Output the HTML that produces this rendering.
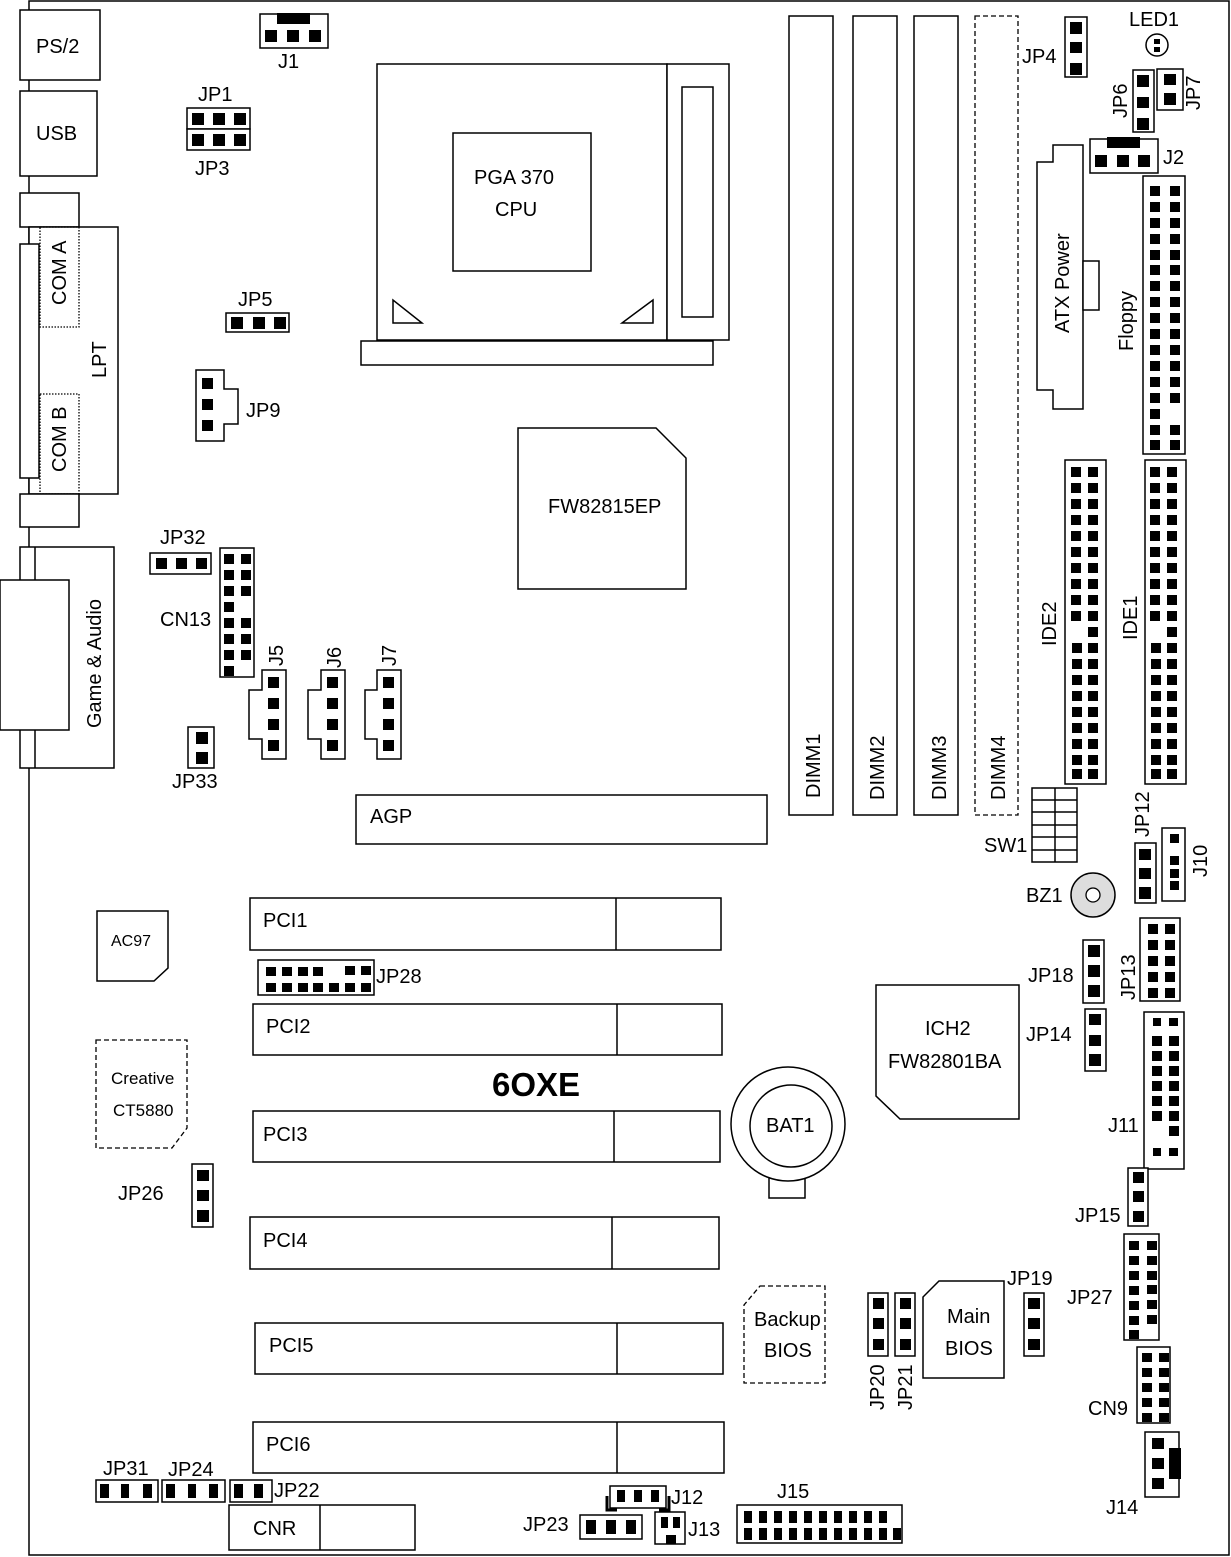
<!DOCTYPE html>
<html><head><meta charset="utf-8"><style>
html,body{margin:0;padding:0;background:#fff}
svg{display:block}
text{font-family:"Liberation Sans",sans-serif;font-size:20px;fill:#000}
.o{fill:none;stroke:#000;stroke-width:1.5}
.w{fill:#fff;stroke:#000;stroke-width:1.5}
.d{fill:none;stroke:#000;stroke-width:1.3;stroke-dasharray:5,3}
.dt{fill:none;stroke:#000;stroke-width:1.3;stroke-dasharray:1.5,1.5}
</style></head><body>
<svg width="1231" height="1557" viewBox="0 0 1231 1557" xmlns="http://www.w3.org/2000/svg">
<path class="o" d="M29,1 H1229 V1555 H29 Z"/>

<rect class="w" x="20" y="10" width="80" height="70"/><text x="36" y="53">PS/2</text>
<rect class="w" x="20" y="91" width="77" height="85"/><text x="36" y="140">USB</text>
<rect class="w" x="20" y="193" width="59" height="34"/>
<rect class="w" x="29" y="227" width="89" height="267"/>
<rect class="w" x="20" y="244" width="19" height="234"/>
<rect class="dt" x="40" y="227" width="39" height="100"/>
<rect class="dt" x="40" y="394" width="39" height="100"/>
<text transform="translate(66,305) rotate(-90)">COM A</text>
<text transform="translate(66,472) rotate(-90)">COM B</text>
<text transform="translate(106,378) rotate(-90)">LPT</text>
<rect class="w" x="20" y="494" width="59" height="33"/>
<rect class="w" x="20" y="547" width="94" height="221"/>
<line class="o" x1="35" y1="547" x2="35" y2="768"/>
<rect class="w" x="0" y="580" width="69" height="150"/>
<text transform="translate(101,728) rotate(-90)">Game &amp; Audio</text>

<rect class="w" x="260" y="14" width="68" height="34"/>
<rect x="277" y="13" width="33" height="11"/>
<rect x="265" y="30" width="12" height="12"/><rect x="287" y="30" width="12" height="12"/><rect x="309" y="30" width="12" height="12"/>
<text x="278" y="68">J1</text>
<rect class="w" x="187" y="108" width="63" height="21"/><rect class="w" x="187" y="129" width="63" height="21"/>
<rect x="192" y="113" width="12" height="12"/><rect x="213" y="113" width="12" height="12"/><rect x="234" y="113" width="12" height="12"/>
<rect x="192" y="134" width="12" height="12"/><rect x="213" y="134" width="12" height="12"/><rect x="234" y="134" width="12" height="12"/>
<text x="198" y="101">JP1</text><text x="195" y="175">JP3</text>
<rect class="w" x="226" y="313" width="63" height="19"/>
<rect x="231" y="317" width="12" height="12"/><rect x="253" y="317" width="12" height="12"/><rect x="274" y="317" width="12" height="12"/>
<text x="238" y="306">JP5</text>
<path class="w" d="M196,370 H224 V389 H238 V424 H224 V441 H196 Z"/>
<rect x="202" y="378" width="11" height="11"/><rect x="202" y="399" width="11" height="11"/><rect x="202" y="420" width="11" height="11"/>
<text x="246" y="417">JP9</text>

<rect class="w" x="377" y="64" width="290" height="276"/>
<rect class="w" x="667" y="64" width="62" height="276"/>
<rect class="w" x="682" y="87" width="31" height="230"/>
<rect class="w" x="361" y="341" width="352" height="24"/>
<rect class="w" x="453" y="133" width="138" height="138"/>
<text x="474" y="184">PGA 370</text><text x="495" y="216">CPU</text>
<path class="o" d="M393,300 V323 H422 Z"/>
<path class="o" d="M653,300 V323 H622 Z"/>
<path class="w" d="M518,428 H656 L686,458 V589 H518 Z"/>
<text x="548" y="513">FW82815EP</text>

<rect class="w" x="789" y="16" width="44" height="799"/>
<rect class="w" x="853" y="16" width="44" height="799"/>
<rect class="w" x="914" y="16" width="44" height="799"/>
<rect class="d" x="975" y="16" width="43" height="799"/>
<text transform="translate(820,798) rotate(-90)">DIMM1</text>
<text transform="translate(884,800) rotate(-90)">DIMM2</text>
<text transform="translate(946,800) rotate(-90)">DIMM3</text>
<text transform="translate(1005,800) rotate(-90)">DIMM4</text>

<rect class="w" x="1065" y="17" width="22" height="60"/>
<rect x="1070" y="22" width="12" height="12"/><rect x="1070" y="42" width="12" height="11"/><rect x="1070" y="63" width="12" height="12"/>
<text x="1022" y="63">JP4</text>
<text x="1129" y="26">LED1</text>
<circle class="o" cx="1157" cy="45" r="11"/>
<rect x="1154" y="39" width="6" height="5"/><rect x="1154" y="47" width="6" height="5"/>
<rect class="w" x="1133" y="70" width="21" height="62"/>
<rect x="1137" y="75" width="12" height="12"/><rect x="1137" y="97" width="12" height="11"/><rect x="1137" y="118" width="12" height="12"/>
<text transform="translate(1127,118) rotate(-90)">JP6</text>
<rect class="w" x="1157" y="69" width="26" height="41"/>
<rect x="1164" y="74" width="12" height="11"/><rect x="1164" y="93" width="12" height="12"/>
<text transform="translate(1200,110) rotate(-90)">JP7</text>
<rect class="w" x="1090" y="139" width="68" height="34"/>
<rect x="1107" y="137" width="33" height="11"/>
<rect x="1095" y="155" width="12" height="12"/><rect x="1117" y="155" width="12" height="12"/><rect x="1138" y="155" width="12" height="12"/>
<text x="1163" y="164">J2</text>
<path class="w" d="M1053,145 H1083 V409 H1053 V390 H1037 V162 H1053 Z"/>
<rect class="w" x="1083" y="261" width="16" height="49"/>
<text transform="translate(1069,333) rotate(-90)">ATX Power</text>
<rect class="w" x="1143" y="176" width="42" height="278"/>
<text transform="translate(1133,351) rotate(-90)">Floppy</text>
<g>
<rect x="1150" y="186" width="10" height="10"/><rect x="1170" y="186" width="10" height="10"/>
<rect x="1150" y="202" width="10" height="10"/><rect x="1170" y="202" width="10" height="10"/>
<rect x="1150" y="218" width="10" height="10"/><rect x="1170" y="218" width="10" height="10"/>
<rect x="1150" y="234" width="10" height="10"/><rect x="1170" y="234" width="10" height="10"/>
<rect x="1150" y="250" width="10" height="10"/><rect x="1170" y="250" width="10" height="10"/>
<rect x="1150" y="265" width="10" height="10"/><rect x="1170" y="265" width="10" height="10"/>
<rect x="1150" y="281" width="10" height="10"/><rect x="1170" y="281" width="10" height="10"/>
<rect x="1150" y="297" width="10" height="10"/><rect x="1170" y="297" width="10" height="10"/>
<rect x="1150" y="313" width="10" height="10"/><rect x="1170" y="313" width="10" height="10"/>
<rect x="1150" y="329" width="10" height="10"/><rect x="1170" y="329" width="10" height="10"/>
<rect x="1150" y="345" width="10" height="10"/><rect x="1170" y="345" width="10" height="10"/>
<rect x="1150" y="361" width="10" height="10"/><rect x="1170" y="361" width="10" height="10"/>
<rect x="1150" y="377" width="10" height="10"/><rect x="1170" y="377" width="10" height="10"/>
<rect x="1150" y="393" width="10" height="10"/><rect x="1170" y="393" width="10" height="10"/>
<rect x="1150" y="409" width="10" height="10"/>
<rect x="1150" y="425" width="10" height="10"/><rect x="1170" y="425" width="10" height="10"/>
<rect x="1150" y="440" width="10" height="10"/><rect x="1170" y="440" width="10" height="10"/>
</g>

<rect class="w" x="1065" y="460" width="41" height="324"/>
<rect class="w" x="1145" y="460" width="41" height="324"/>
<text transform="translate(1056,646) rotate(-90)">IDE2</text>
<text transform="translate(1137,640) rotate(-90)">IDE1</text>
<g id="ide">
<rect x="1071" y="467" width="10" height="10"/><rect x="1088" y="467" width="10" height="10"/>
<rect x="1071" y="483" width="10" height="10"/><rect x="1088" y="483" width="10" height="10"/>
<rect x="1071" y="499" width="10" height="10"/><rect x="1088" y="499" width="10" height="10"/>
<rect x="1071" y="515" width="10" height="10"/><rect x="1088" y="515" width="10" height="10"/>
<rect x="1071" y="531" width="10" height="10"/><rect x="1088" y="531" width="10" height="10"/>
<rect x="1071" y="547" width="10" height="10"/><rect x="1088" y="547" width="10" height="10"/>
<rect x="1071" y="563" width="10" height="10"/><rect x="1088" y="563" width="10" height="10"/>
<rect x="1071" y="579" width="10" height="10"/><rect x="1088" y="579" width="10" height="10"/>
<rect x="1071" y="595" width="10" height="10"/><rect x="1088" y="595" width="10" height="10"/>
<rect x="1071" y="611" width="10" height="10"/><rect x="1088" y="611" width="10" height="10"/>
<rect x="1088" y="627" width="10" height="10"/>
<rect x="1072" y="643" width="10" height="10"/><rect x="1088" y="643" width="10" height="10"/>
<rect x="1072" y="659" width="10" height="10"/><rect x="1088" y="659" width="10" height="10"/>
<rect x="1072" y="675" width="10" height="10"/><rect x="1088" y="675" width="10" height="10"/>
<rect x="1072" y="691" width="10" height="10"/><rect x="1088" y="691" width="10" height="10"/>
<rect x="1072" y="707" width="10" height="10"/><rect x="1088" y="707" width="10" height="10"/>
<rect x="1072" y="723" width="10" height="10"/><rect x="1088" y="723" width="10" height="10"/>
<rect x="1072" y="739" width="10" height="10"/><rect x="1088" y="739" width="10" height="10"/>
<rect x="1072" y="755" width="10" height="10"/><rect x="1088" y="755" width="10" height="10"/>
<rect x="1072" y="769" width="10" height="10"/><rect x="1088" y="769" width="10" height="10"/>
</g>
<use href="#ide" transform="translate(79,0)"/>

<rect class="w" x="1032" y="788" width="45" height="74"/>
<path class="o" d="M1055,788 V862 M1032,800 H1077 M1032,812 H1077 M1032,825 H1077 M1032,837 H1077 M1032,850 H1077"/>
<text x="984" y="852">SW1</text>
<rect class="w" x="1135" y="843" width="21" height="60"/>
<rect x="1139" y="849" width="12" height="11"/><rect x="1139" y="868" width="12" height="11"/><rect x="1139" y="887" width="12" height="12"/>
<text transform="translate(1149,837) rotate(-90)">JP12</text>
<rect class="w" x="1162" y="828" width="23" height="73"/>
<rect x="1170" y="834" width="9" height="9"/><rect x="1170" y="856" width="9" height="9"/><rect x="1170" y="869" width="9" height="9"/><rect x="1170" y="881" width="9" height="9"/>
<text transform="translate(1207,877) rotate(-90)">J10</text>
<circle cx="1093" cy="895" r="22" fill="#ddd" stroke="#000" stroke-width="1.5"/>
<circle cx="1093" cy="895" r="7" fill="#fff" stroke="#000" stroke-width="1.3"/>
<text x="1026" y="902">BZ1</text>
<rect class="w" x="1140" y="918" width="40" height="83"/>
<g>
<rect x="1148" y="924" width="10" height="10"/><rect x="1165" y="924" width="10" height="10"/>
<rect x="1148" y="940" width="10" height="10"/><rect x="1165" y="940" width="10" height="10"/>
<rect x="1148" y="956" width="10" height="10"/><rect x="1165" y="956" width="10" height="10"/>
<rect x="1148" y="972" width="10" height="10"/><rect x="1165" y="972" width="10" height="10"/>
<rect x="1148" y="988" width="10" height="10"/><rect x="1165" y="988" width="10" height="10"/>
</g>
<text transform="translate(1135,1000) rotate(-90)">JP13</text>
<rect class="w" x="1083" y="940" width="21" height="63"/>
<rect x="1088" y="945" width="12" height="12"/><rect x="1088" y="965" width="12" height="12"/><rect x="1088" y="985" width="12" height="12"/>
<text x="1028" y="982">JP18</text>
<rect class="w" x="1085" y="1009" width="21" height="62"/>
<rect x="1089" y="1014" width="12" height="11"/><rect x="1089" y="1035" width="12" height="11"/><rect x="1089" y="1054" width="12" height="12"/>
<text x="1026" y="1041">JP14</text>
<rect class="w" x="1144" y="1012" width="40" height="157"/>
<g>
<rect x="1153" y="1018" width="8" height="8"/><rect x="1169" y="1018" width="9" height="8"/>
<rect x="1152" y="1036" width="10" height="10"/><rect x="1169" y="1036" width="10" height="10"/>
<rect x="1152" y="1051" width="10" height="10"/><rect x="1169" y="1051" width="10" height="10"/>
<rect x="1152" y="1066" width="10" height="10"/><rect x="1169" y="1066" width="10" height="10"/>
<rect x="1152" y="1081" width="10" height="10"/><rect x="1169" y="1081" width="10" height="10"/>
<rect x="1152" y="1096" width="10" height="10"/><rect x="1169" y="1096" width="10" height="10"/>
<rect x="1152" y="1111" width="10" height="10"/><rect x="1169" y="1111" width="10" height="10"/>
<rect x="1169" y="1126" width="10" height="10"/>
<rect x="1153" y="1148" width="8" height="8"/><rect x="1169" y="1148" width="9" height="8"/>
</g>
<text x="1108" y="1132">J11</text>
<rect class="w" x="1128" y="1168" width="20" height="58"/>
<rect x="1133" y="1172" width="11" height="11"/><rect x="1133" y="1191" width="11" height="11"/><rect x="1133" y="1211" width="11" height="11"/>
<text x="1075" y="1222">JP15</text>
<rect class="w" x="1124" y="1234" width="35" height="106"/>
<g>
<rect x="1129" y="1241" width="10" height="9"/><rect x="1147" y="1241" width="10" height="9"/>
<rect x="1129" y="1256" width="10" height="9"/><rect x="1147" y="1256" width="10" height="9"/>
<rect x="1129" y="1271" width="10" height="9"/><rect x="1147" y="1271" width="10" height="9"/>
<rect x="1129" y="1286" width="10" height="9"/><rect x="1147" y="1285" width="10" height="9"/>
<rect x="1129" y="1301" width="10" height="9"/><rect x="1147" y="1300" width="10" height="9"/>
<rect x="1129" y="1316" width="10" height="9"/><rect x="1147" y="1315" width="10" height="9"/>
<rect x="1129" y="1330" width="10" height="9"/>
</g>
<text x="1067" y="1304">JP27</text>
<rect class="w" x="1137" y="1347" width="33" height="76"/>
<g>
<rect x="1142" y="1353" width="10" height="9"/><rect x="1159" y="1353" width="10" height="9"/>
<rect x="1142" y="1368" width="10" height="9"/><rect x="1159" y="1368" width="10" height="9"/>
<rect x="1142" y="1383" width="10" height="9"/><rect x="1159" y="1383" width="10" height="9"/>
<rect x="1142" y="1398" width="10" height="9"/><rect x="1159" y="1398" width="10" height="9"/>
<rect x="1142" y="1413" width="10" height="9"/><rect x="1159" y="1413" width="10" height="9"/>
</g>
<text x="1088" y="1415">CN9</text>
<rect class="w" x="1145" y="1432" width="34" height="65"/>
<rect x="1152" y="1438" width="12" height="11"/><rect x="1152" y="1458" width="12" height="11"/><rect x="1152" y="1478" width="12" height="11"/>
<rect x="1169" y="1448" width="12" height="31"/>
<text x="1106" y="1514">J14</text>

<path class="w" d="M876,985 H1019 V1119 H900 L876,1096 Z"/>
<text x="925" y="1035">ICH2</text><text x="888" y="1068">FW82801BA</text>
<rect class="w" x="769" y="1178" width="36" height="20"/>
<circle class="w" cx="788" cy="1124" r="57"/>
<circle class="o" cx="791" cy="1126" r="41"/>
<text x="766" y="1132">BAT1</text>
<path class="d" d="M760,1286 H825 V1383 H744 V1305 Z"/>
<text x="754" y="1326">Backup</text><text x="764" y="1357">BIOS</text>
<rect class="w" x="868" y="1293" width="20" height="63"/>
<rect x="873" y="1298" width="11" height="11"/><rect x="873" y="1318" width="11" height="11"/><rect x="873" y="1339" width="11" height="11"/>
<rect class="w" x="895" y="1293" width="20" height="63"/>
<rect x="900" y="1298" width="11" height="11"/><rect x="900" y="1318" width="11" height="11"/><rect x="900" y="1339" width="11" height="11"/>
<text transform="translate(884,1410) rotate(-90)">JP20</text>
<text transform="translate(912,1410) rotate(-90)">JP21</text>
<path class="w" d="M939,1281 H1004 V1378 H923 V1297 Z"/>
<text x="947" y="1323">Main</text><text x="945" y="1355">BIOS</text>
<rect class="w" x="1024" y="1293" width="20" height="63"/>
<rect x="1028" y="1298" width="12" height="11"/><rect x="1028" y="1318" width="12" height="11"/><rect x="1028" y="1339" width="12" height="11"/>
<text x="1007" y="1285">JP19</text>

<rect class="w" x="150" y="553" width="61" height="21"/>
<rect x="156" y="558" width="11" height="11"/><rect x="176" y="558" width="11" height="11"/><rect x="196" y="558" width="11" height="11"/>
<text x="160" y="544">JP32</text>
<rect class="w" x="220" y="548" width="34" height="129"/>
<g>
<rect x="224" y="554" width="10" height="10"/><rect x="241" y="554" width="10" height="10"/>
<rect x="224" y="570" width="10" height="10"/><rect x="241" y="570" width="10" height="10"/>
<rect x="224" y="586" width="10" height="10"/><rect x="241" y="586" width="10" height="10"/>
<rect x="224" y="602" width="10" height="10"/>
<rect x="224" y="618" width="10" height="10"/><rect x="241" y="618" width="10" height="10"/>
<rect x="224" y="634" width="10" height="10"/><rect x="241" y="634" width="10" height="10"/>
<rect x="224" y="650" width="10" height="10"/><rect x="241" y="650" width="10" height="10"/>
<rect x="224" y="666" width="10" height="10"/>
</g>
<text x="160" y="626">CN13</text>
<path class="w" d="M262,670 H286 V759 H262 V739 H249 V690 H262 Z"/>
<rect x="268" y="677" width="11" height="11"/><rect x="268" y="698" width="11" height="11"/><rect x="268" y="719" width="11" height="11"/><rect x="268" y="740" width="11" height="11"/>
<path class="w" d="M321,670 H345 V759 H321 V739 H308 V690 H321 Z"/>
<rect x="327" y="677" width="11" height="11"/><rect x="327" y="698" width="11" height="11"/><rect x="327" y="719" width="11" height="11"/><rect x="327" y="740" width="11" height="11"/>
<path class="w" d="M377,670 H401 V759 H377 V739 H365 V690 H377 Z"/>
<rect x="383" y="677" width="11" height="11"/><rect x="383" y="698" width="11" height="11"/><rect x="383" y="719" width="11" height="11"/><rect x="383" y="740" width="11" height="11"/>
<text transform="translate(283,666) rotate(-90)">J5</text>
<text transform="translate(341,668) rotate(-90)">J6</text>
<text transform="translate(396,666) rotate(-90)">J7</text>
<rect class="w" x="188" y="727" width="26" height="41"/>
<rect x="196" y="732" width="12" height="12"/><rect x="196" y="752" width="12" height="12"/>
<text x="172" y="788">JP33</text>
<rect class="w" x="356" y="795" width="411" height="49"/>
<text x="370" y="823">AGP</text>

<rect class="w" x="250" y="898" width="471" height="52"/><line class="o" x1="616" y1="898" x2="616" y2="950"/><text x="263" y="927">PCI1</text>
<rect class="w" x="253" y="1004" width="469" height="51"/><line class="o" x1="617" y1="1004" x2="617" y2="1055"/><text x="266" y="1033">PCI2</text>
<rect class="w" x="253" y="1111" width="467" height="51"/><line class="o" x1="614" y1="1111" x2="614" y2="1162"/><text x="263" y="1141">PCI3</text>
<rect class="w" x="250" y="1217" width="469" height="52"/><line class="o" x1="612" y1="1217" x2="612" y2="1269"/><text x="263" y="1247">PCI4</text>
<rect class="w" x="255" y="1323" width="468" height="51"/><line class="o" x1="617" y1="1323" x2="617" y2="1374"/><text x="269" y="1352">PCI5</text>
<rect class="w" x="253" y="1422" width="471" height="51"/><line class="o" x1="617" y1="1422" x2="617" y2="1473"/><text x="266" y="1451">PCI6</text>
<text x="492" y="1096" style="font-size:33px;font-weight:bold">6OXE</text>
<rect class="w" x="258" y="960" width="116" height="35"/>
<g>
<rect x="266" y="967" width="10" height="9"/><rect x="282" y="967" width="10" height="9"/><rect x="298" y="967" width="10" height="9"/><rect x="313" y="967" width="10" height="9"/><rect x="345" y="966" width="10" height="9"/><rect x="361" y="966" width="10" height="9"/>
<rect x="266" y="983" width="10" height="9"/><rect x="282" y="983" width="10" height="9"/><rect x="298" y="983" width="10" height="9"/><rect x="313" y="983" width="10" height="9"/><rect x="329" y="983" width="10" height="9"/><rect x="345" y="983" width="10" height="9"/><rect x="361" y="983" width="10" height="9"/>
</g>
<text x="376" y="983">JP28</text>
<path class="w" d="M97,911 H168 V968 L154,981 H97 Z"/>
<text x="111" y="946" style="font-size:16px">AC97</text>
<path class="d" d="M96,1040 H187 V1128 L172,1148 H96 Z"/>
<text x="111" y="1084" style="font-size:17px">Creative</text>
<text x="113" y="1116" style="font-size:17px">CT5880</text>
<rect class="w" x="192" y="1164" width="21" height="63"/>
<rect x="197" y="1170" width="12" height="11"/><rect x="197" y="1190" width="12" height="11"/><rect x="197" y="1210" width="12" height="12"/>
<text x="118" y="1200">JP26</text>

<rect class="w" x="96" y="1480" width="62" height="22"/>
<rect x="100" y="1484" width="9" height="14"/><rect x="121" y="1484" width="8" height="14"/><rect x="143" y="1484" width="9" height="14"/>
<rect class="w" x="162" y="1480" width="63" height="22"/>
<rect x="166" y="1484" width="9" height="14"/><rect x="188" y="1484" width="8" height="14"/><rect x="209" y="1484" width="9" height="14"/>
<rect class="w" x="230" y="1480" width="42" height="22"/>
<rect x="234" y="1484" width="9" height="14"/><rect x="254" y="1484" width="9" height="14"/>
<text x="103" y="1475">JP31</text><text x="168" y="1476">JP24</text><text x="274" y="1497">JP22</text>
<rect class="w" x="229" y="1505" width="186" height="45"/><line class="o" x1="320" y1="1505" x2="320" y2="1550"/>
<text x="253" y="1535">CNR</text>
<rect class="w" x="610" y="1486" width="56" height="22"/>
<rect x="617" y="1490" width="8" height="12"/><rect x="634" y="1490" width="8" height="12"/><rect x="651" y="1490" width="8" height="12"/>
<path d="M607,1496 V1510 H617" fill="none" stroke="#000" stroke-width="3"/>
<path d="M669,1496 V1510 H659" fill="none" stroke="#000" stroke-width="3"/>
<text x="671" y="1504">J12</text>
<rect class="w" x="580" y="1515" width="62" height="24"/>
<rect x="586" y="1520" width="10" height="14"/><rect x="606" y="1520" width="10" height="14"/><rect x="626" y="1520" width="10" height="14"/>
<text x="523" y="1531">JP23</text>
<rect class="w" x="655" y="1512" width="30" height="32"/>
<rect x="661" y="1517" width="7" height="11"/><rect x="673" y="1517" width="7" height="11"/><rect x="666" y="1535" width="10" height="9"/>
<text x="688" y="1536">J13</text>
<rect class="w" x="737" y="1505" width="165" height="38"/>
<g>
<rect x="744" y="1511" width="8" height="12"/><rect x="759" y="1511" width="8" height="12"/><rect x="774" y="1511" width="8" height="12"/><rect x="789" y="1511" width="8" height="12"/><rect x="804" y="1511" width="8" height="12"/><rect x="819" y="1511" width="8" height="12"/><rect x="834" y="1511" width="8" height="12"/><rect x="849" y="1511" width="8" height="12"/><rect x="864" y="1511" width="8" height="12"/><rect x="879" y="1511" width="8" height="12"/>
<rect x="744" y="1528" width="8" height="12"/><rect x="759" y="1528" width="8" height="12"/><rect x="774" y="1528" width="8" height="12"/><rect x="789" y="1528" width="8" height="12"/><rect x="804" y="1528" width="8" height="12"/><rect x="819" y="1528" width="8" height="12"/><rect x="834" y="1528" width="8" height="12"/><rect x="849" y="1528" width="8" height="12"/><rect x="864" y="1528" width="8" height="12"/><rect x="879" y="1528" width="8" height="12"/><rect x="893" y="1528" width="8" height="12"/>
</g>
<text x="777" y="1498">J15</text>
</svg>
</body></html>
